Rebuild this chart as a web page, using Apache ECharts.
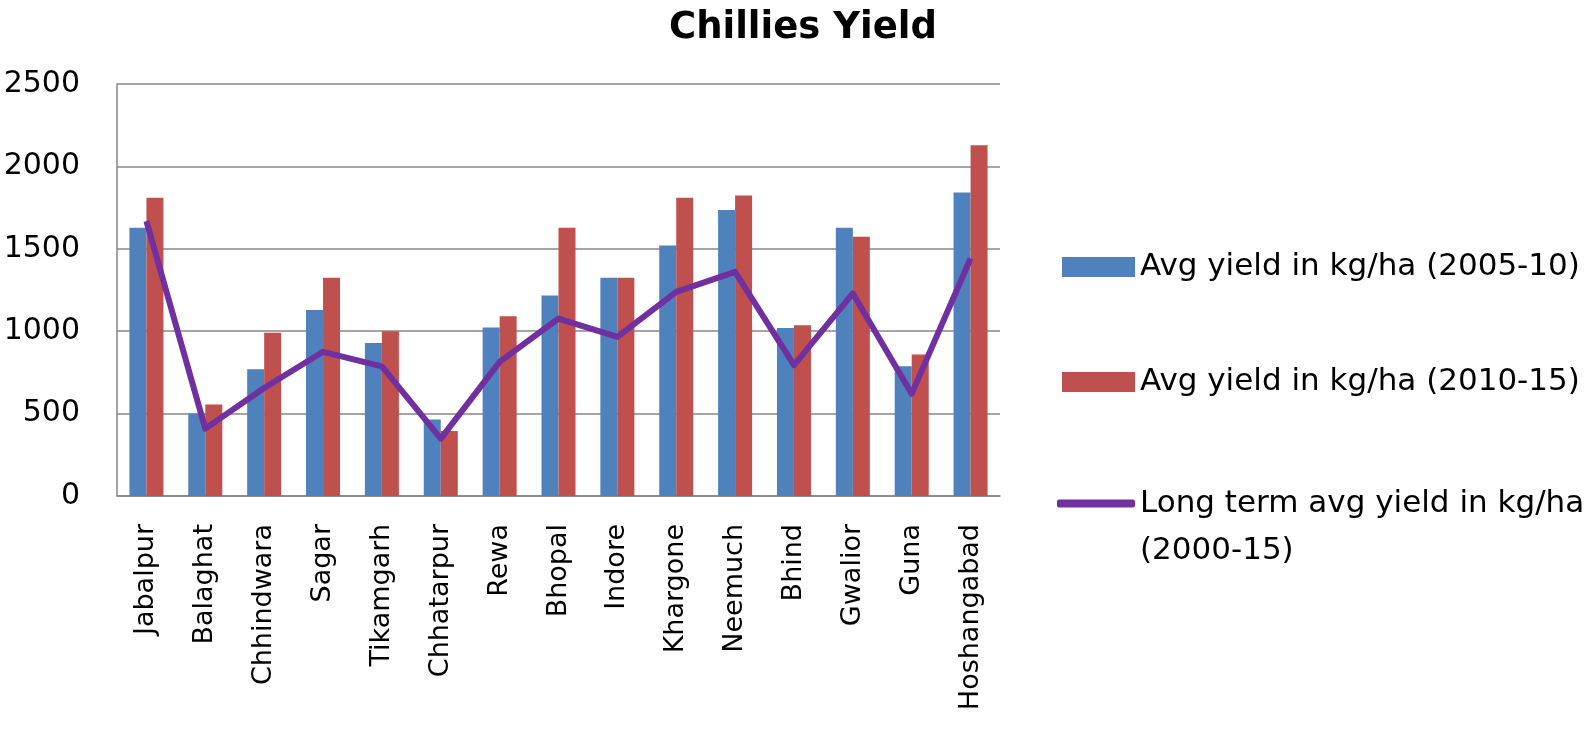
<!DOCTYPE html>
<html>
<head>
<meta charset="utf-8">
<script src="https://cdn.jsdelivr.net/npm/echarts@6/dist/echarts.min.js"></script>
<style>html,body{margin:0;padding:0;background:#fff}#c{width:1594px;height:741px}</style>
</head>
<body>
<div id="c"></div>
<script>
const categories = ['Jabalpur','Balaghat','Chhindwara','Sagar','Tikamgarh','Chhatarpur','Rewa','Bhopal','Indore','Khargone','Neemuch','Bhind','Gwalior','Guna','Hoshangabad'];
const yield0510 = [1627, 500, 769, 1128, 929, 464, 1022, 1217, 1324, 1520, 1735, 1020, 1628, 787, 1842];
const yield1015 = [1810, 555, 990, 1324, 1000, 395, 1091, 1628, 1324, 1810, 1824, 1036, 1573, 858, 2128];
const longTerm = [1668, 409, 655, 875, 787, 348, 814, 1077, 966, 1239, 1360, 794, 1229, 621, 1441];
const names = ['Avg yield in kg/ha (2005-10)', 'Avg yield in kg/ha (2010-15)', 'Long term avg yield in kg/ha (2000-15)'];

const FONT = '"DejaVu Sans", sans-serif';
const chart = echarts.init(document.getElementById('c'), null, {renderer: 'canvas'});
const legendText = {fontFamily: FONT, fontSize: 31, color: '#000', lineHeight: 36};
const legendBase = {
  orient: 'vertical', left: 1062, itemWidth: 73, itemHeight: 20, padding: 0,
  textStyle: legendText,
  selectedMode: false
};
chart.setOption({
  animation: false,
  backgroundColor: '#fff',
  title: {
    text: 'Chillies Yield', left: 669, top: 10, padding: 0,
    textStyle: {fontFamily: FONT, fontSize: 37, fontWeight: 'bold', color: '#000'}
  },
  legend: [
    Object.assign({}, legendBase, {top: 249, data: [{name: names[0], icon: 'rect'}]}),
    Object.assign({}, legendBase, {top: 364, data: [{name: names[1], icon: 'rect'}]}),
    Object.assign({}, legendBase, {
      top: 433, left: 1057, itemWidth: 78, itemHeight: 8,
      data: [{name: names[2], icon: 'roundRect'}],
      formatter: () => '{s| }\n{t|Long term avg yield in kg/ha}\n{t|(2000-15)}',
      textStyle: {
        fontFamily: FONT, fontSize: 31, color: '#000',
        rich: {
          s: {fontSize: 31, lineHeight: 47, height: 47},
          t: {fontFamily: FONT, fontSize: 31, color: '#000', lineHeight: 47}
        }
      }
    })
  ],
  grid: {left: 117, right: 594, top: 84, bottom: 245, containLabel: false},
  xAxis: {
    type: 'category', data: categories,
    axisLine: {show: true, lineStyle: {color: '#878787', width: 1.5}},
    axisTick: {show: false},
    axisLabel: {rotate: 90, interval: 0, margin: 28, fontFamily: FONT, fontSize: 27, color: '#000'}
  },
  yAxis: {
    type: 'value', min: 0, max: 2500, interval: 500,
    axisLine: {show: true, lineStyle: {color: '#878787', width: 1.5}},
    axisTick: {show: false},
    axisLabel: {margin: 37, fontFamily: FONT, fontSize: 30, color: '#000', formatter: v => String(v)},
    splitLine: {show: true, lineStyle: {color: '#878787', width: 1.5}}
  },
  series: [
    {name: names[0], type: 'bar', data: yield0510, barWidth: 17, barGap: '0%', itemStyle: {color: '#4F81BD'}},
    {name: names[1], type: 'bar', data: yield1015, barWidth: 17, barGap: '0%', itemStyle: {color: '#C0504D'}},
    {name: names[2], type: 'line', data: longTerm, symbol: 'none', lineStyle: {color: '#7030A0', width: 6, join: 'round'}, itemStyle: {color: '#7030A0'}}
  ]
});
</script>
</body>
</html>
